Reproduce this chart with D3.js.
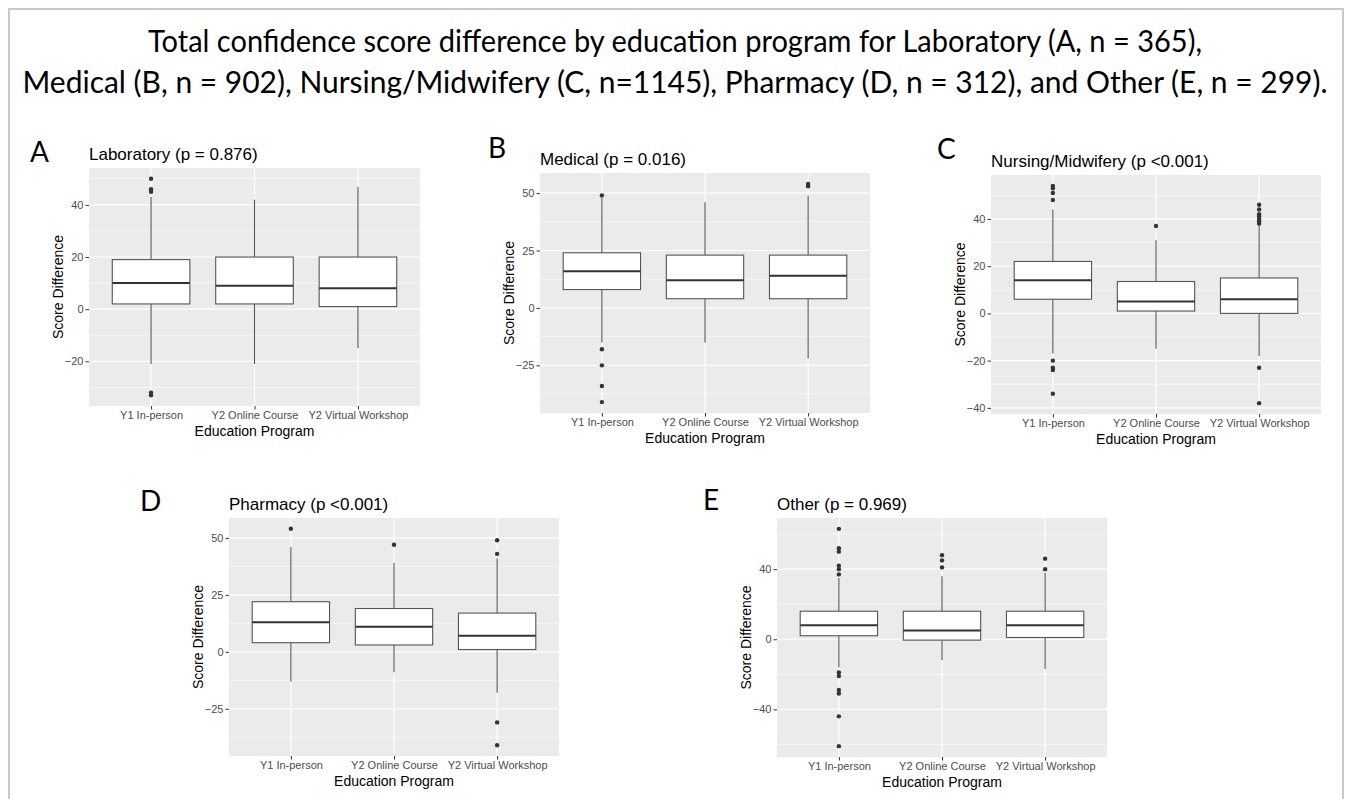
<!DOCTYPE html>
<html>
<head>
<meta charset="utf-8">
<script src="https://cdn.jsdelivr.net/npm/d3@7"></script>
<style>
  body { margin: 0; background: #fff; }
  svg { display: block; }
</style>
</head>
<body>
<svg id="main-svg" width="1347" height="799"></svg>
<script>
var programs = ['Y1 In-person', 'Y2 Online Course', 'Y2 Virtual Workshop'];

// each box: [lower whisker, q1, median, q3, upper whisker], one per program
var labBoxes = [[-21, 2, 10, 19, 43], [-21, 2, 9, 20, 42], [-15, 1, 8, 20, 47]];
var labOutliers = [[50, 46, 45, -32, -33], [], []];
var labTicks = [-20, 0, 20, 40];

var medBoxes = [[-15, 8, 16, 24, 48], [-15, 4, 12, 23, 46], [-22, 4, 14, 23, 49]];
var medOutliers = [[49, -18, -25, -34, -41], [], [54, 53]];
var medTicks = [-25, 0, 25, 50];

var nurBoxes = [[-17, 6, 14, 22, 44], [-15, 1, 5, 13.5, 31], [-18, 0, 6, 15, 37]];
var nurOutliers = [[54, 53, 51, 48, -20, -23, -24, -34], [37], [46, 44, 42, 41, 40, 39, 38, -23, -38]];
var nurTicks = [-40, -20, 0, 20, 40];

var phaBoxes = [[-13, 4, 13, 22, 46], [-9, 3, 11, 19, 39], [-18, 1, 7, 17, 41]];
var phaOutliers = [[54], [47], [49, 43, -31, -41]];
var phaTicks = [-25, 0, 25, 50];

var othBoxes = [[-16, 2, 8, 16, 35], [-12, -0.5, 5, 16, 36], [-17, 1, 8, 16, 38]];
var othOutliers = [[63, 52, 50, 42, 40, 37, -19, -21, -29, -31, -44, -61], [48, 45, 41], [46, 40]];
var othTicks = [-40, 0, 40];

var titleLines = [
    'Total confidence score difference by education program for Laboratory (A, n = 365),',
    'Medical (B, n = 902), Nursing/Midwifery (C, n=1145), Pharmacy (D, n = 312), and Other (E, n = 299).'
];

var panels = [
    {letter: 'A', title: 'Laboratory (p = 0.876)', boxes: labBoxes, outliers: labOutliers, ticks: labTicks,
     x: 89, y: 168, w: 331, h: 238, lx: 30, ly: 162},
    {letter: 'B', title: 'Medical (p = 0.016)', boxes: medBoxes, outliers: medOutliers, ticks: medTicks,
     x: 540, y: 173, w: 330, h: 240, lx: 488, ly: 158},
    {letter: 'C', title: 'Nursing/Midwifery (p <0.001)', boxes: nurBoxes, outliers: nurOutliers, ticks: nurTicks,
     x: 991, y: 175, w: 330, h: 239, lx: 937, ly: 159},
    {letter: 'D', title: 'Pharmacy (p <0.001)', boxes: phaBoxes, outliers: phaOutliers, ticks: phaTicks,
     x: 229, y: 518, w: 330, h: 238, lx: 140, ly: 511},
    {letter: 'E', title: 'Other (p = 0.969)', boxes: othBoxes, outliers: othOutliers, ticks: othTicks,
     x: 777, y: 518, w: 330, h: 239, lx: 703, ly: 510}
];

var svg = d3.select('#main-svg');
var sans = '"Liberation Sans", Arial, sans-serif';

// outer frame
svg.append('rect')
    .attr('x', 9).attr('y', 9).attr('width', 1334).attr('height', 800)
    .attr('fill', 'none').attr('stroke', '#c9c9c9').attr('stroke-width', 2);

svg.selectAll('text.main-title').data(titleLines).enter().append('text')
    .attr('class', 'main-title')
    .attr('x', 675)
    .attr('y', function(d, i) { return 52 + i*41; })
    .attr('text-anchor', 'middle')
    .attr('textLength', function(d, i) { return i == 0 ? 1054 : 1305; })
    .attr('lengthAdjust', 'spacingAndGlyphs')
    .style('font-family', 'Lato, "Open Sans", sans-serif')
    .style('font-size', '30px')
    .attr('fill', '#000')
    .text(function(d) { return d; });

function drawPanel(p) {
    var g = svg.append('g').attr('transform', 'translate(' + p.x + ',' + p.y + ')');

    var all = [];
    p.boxes.forEach(function(b) { all.push(b[0], b[4]); });
    p.outliers.forEach(function(o) { all = all.concat(o); });
    var lo = d3.min(all), hi = d3.max(all), pad = (hi - lo)*0.05;

    var y = d3.scaleLinear().domain([lo - pad, hi + pad]).range([p.h, 0]);
    var x = d3.scalePoint().domain(programs).range([0, p.w]).padding(0.6);
    var bw = x.step()*0.75;

    g.append('rect').attr('width', p.w).attr('height', p.h).attr('fill', '#ebebeb');

    // minor grid half way between breaks
    var step = p.ticks[1] - p.ticks[0];
    var minor = [p.ticks[0] - step/2].concat(p.ticks.map(function(t) { return t + step/2; }))
        .filter(function(v) { return v > y.domain()[0] && v < y.domain()[1]; });
    g.selectAll('line.minor').data(minor).enter().append('line')
        .attr('x1', 0).attr('x2', p.w)
        .attr('y1', function(d) { return y(d); }).attr('y2', function(d) { return y(d); })
        .attr('stroke', '#fff').attr('stroke-width', 0.6);
    g.selectAll('line.major').data(p.ticks).enter().append('line')
        .attr('x1', 0).attr('x2', p.w)
        .attr('y1', function(d) { return y(d); }).attr('y2', function(d) { return y(d); })
        .attr('stroke', '#fff').attr('stroke-width', 1.2);
    g.selectAll('line.vgrid').data(programs).enter().append('line')
        .attr('x1', function(d) { return x(d); }).attr('x2', function(d) { return x(d); })
        .attr('y1', 0).attr('y2', p.h)
        .attr('stroke', '#fff').attr('stroke-width', 1.2);

    var boxes = g.selectAll('g.box').data(p.boxes).enter().append('g')
        .attr('transform', function(d, i) { return 'translate(' + x(programs[i]) + ',0)'; });
    boxes.append('line')
        .attr('y1', function(d) { return y(d[0]); }).attr('y2', function(d) { return y(d[1]); })
        .attr('stroke', '#555').attr('stroke-width', 1.1);
    boxes.append('line')
        .attr('y1', function(d) { return y(d[3]); }).attr('y2', function(d) { return y(d[4]); })
        .attr('stroke', '#555').attr('stroke-width', 1.1);
    boxes.append('rect')
        .attr('x', -bw/2).attr('width', bw)
        .attr('y', function(d) { return y(d[3]); })
        .attr('height', function(d) { return y(d[1]) - y(d[3]); })
        .attr('fill', '#fff').attr('stroke', '#555').attr('stroke-width', 1.1);
    boxes.append('line')
        .attr('x1', -bw/2).attr('x2', bw/2)
        .attr('y1', function(d) { return y(d[2]); }).attr('y2', function(d) { return y(d[2]); })
        .attr('stroke', '#333').attr('stroke-width', 2);

    p.outliers.forEach(function(o, i) {
        g.selectAll(null).data(o).enter().append('circle')
            .attr('cx', x(programs[i]))
            .attr('cy', function(d) { return y(d); })
            .attr('r', 2.2)
            .attr('fill', '#333');
    });

    // axes
    var ya = g.append('g').call(d3.axisLeft(y).tickValues(p.ticks).tickSize(3.5).tickPadding(2));
    var xa = g.append('g').attr('transform', 'translate(0,' + p.h + ')')
        .call(d3.axisBottom(x).tickSize(3.5).tickPadding(2));
    [ya, xa].forEach(function(a) {
        a.select('.domain').remove();
        a.selectAll('.tick line').attr('stroke', '#333');
        a.selectAll('.tick text').attr('fill', '#4d4d4d')
            .style('font-family', sans).style('font-size', '11px');
    });

    g.append('text')
        .attr('transform', 'translate(-31,' + p.h/2 + ') rotate(-90)')
        .attr('dy', '0.35em')
        .attr('text-anchor', 'middle')
        .style('font-family', sans).style('font-size', '14px')
        .text('Score Difference');
    g.append('text')
        .attr('x', p.w/2).attr('y', p.h + 30)
        .attr('text-anchor', 'middle')
        .style('font-family', sans).style('font-size', '14px')
        .text('Education Program');
    g.append('text')
        .attr('x', 0).attr('y', -8)
        .style('font-family', sans).style('font-size', '17px')
        .text(p.title);

    svg.append('text')
        .attr('x', p.lx).attr('y', p.ly)
        .style('font-family', 'Lato, "Open Sans", sans-serif').style('font-size', '28px')
        .text(p.letter);
}

panels.forEach(drawPanel);
</script>
</body>
</html>
